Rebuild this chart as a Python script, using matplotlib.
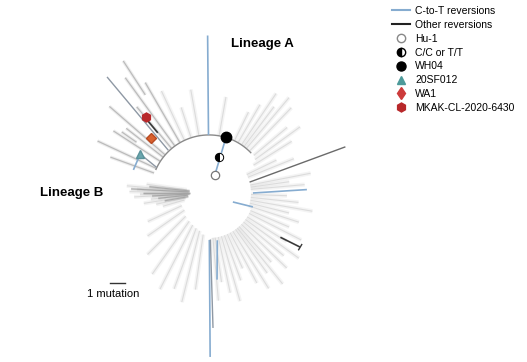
import numpy as np
import matplotlib
matplotlib.use('Agg')
import matplotlib.pyplot as plt
from matplotlib.lines import Line2D

plt.rcParams['font.family'] = ['Liberation Sans', 'DejaVu Sans']

# tree drawn in polar form around the root: angle (deg), radius (mutations)
ARC_R = 3.87
ARC_SPAN = (44, 156)

# faint background branches: (angle, r_start, r_end)
faint_branches = [
    (172, 1.5, 4.2), (175, 1.5, 5.5), (177, 1.4, 4.8), (179, 1.4, 5.3),
    (181, 1.5, 4.6), (183, 1.5, 5.0), (186, 1.5, 3.9), (189, 1.6, 4.4),
    (192, 1.6, 3.6), (196, 1.7, 3.2),
    (205, 2.0, 4.5), (215, 2.0, 5.0), (225, 2.2, 5.8), (235, 2.3, 6.6),
    (243, 2.4, 7.2), (250, 2.5, 6.8), (256, 2.6, 7.5), (262, 2.8, 6.5),
    (275, 3.0, 7.2), (278, 3.0, 6.0), (282, 3.0, 6.8), (286, 3.0, 7.5),
    (290, 3.0, 6.2), (294, 3.0, 5.5), (298, 3.0, 6.8),
    (302, 3.0, 7.5), (306, 3.0, 6.6), (309, 3.0, 7.8), (312, 3.0, 6.2),
    (316, 3.0, 7.2), (320, 3.0, 6.5), (324, 3.0, 7.4), (328, 3.0, 6.1),
    (333, 3.0, 6.9), (337, 3.0, 5.8),
    (342, 2.8, 6.3), (346, 2.8, 5.5), (350, 2.8, 7.0), (354, 2.8, 6.0),
    (358, 2.8, 5.2), (5, 2.8, 6.4), (8, 2.8, 5.4), (11, 2.8, 6.9),
    (22, 2.8, 6.1), (26, 2.8, 5.0),
    (32, 3.5, 6.5), (36, 3.8, 7.5), (40, 3.9, 6.8), (46, 3.9, 7.9),
    (50, 3.9, 8.3), (53, 3.9, 7.2), (56, 3.9, 8.0), (60, 3.9, 6.8),
    (64, 3.9, 6.0), (80, 3.9, 6.5), (100, 3.9, 7.0), (108, 3.9, 6.0),
    (115, 3.9, 7.5),
]

# lineage B fan near the root, a bit darker
lineage_b_fan = [
    (174, 1.3, 4.0), (177, 1.3, 5.2), (180, 1.3, 4.4), (183, 1.3, 3.8),
    (186, 1.4, 3.4), (190, 1.4, 3.0),
]

# more visible grey branches in the upper-left (lineage A side)
grey_branches = [
    (120, 3.9, 8.5), (123, 7.8, 10.5), (126, 3.9, 9.5), (130, 3.9, 7.5),
    (139, 3.9, 8.8), (142, 3.9, 7.0), (145, 5.9, 7.1), (147, 3.9, 7.6),
    (155, 3.9, 8.2), (160, 3.9, 7.0),
]

# highlighted segments: (a0, r0, a1, r1, kind)
segments = [
    (90.5, 3.87, 90.5, 10.5, 'ct'),
    (133.6, 3.93, 131.3, 10.3, 'tree'),
    (130.4, 5.27, 130.3, 6.4, 'other'),
    (154.0, 3.87, 150.5, 5.27, 'tree'),
    (150.5, 5.27, 163.0, 5.27, 'ct'),
    (73.0, 3.87, 72.0, 1.27, 'ct'),
    (15.0, 2.8, 18.7, 9.6, 'dark'),
    (0.0, 2.93, 2.0, 6.53, 'ct'),
    (-20.6, 1.7, -17.6, 3.07, 'ct'),
    (-31.8, 5.6, -30.7, 7.07, 'other'),
    (-89.6, 3.13, -89.6, 10.93, 'ct'),
    (-88.3, 3.1, -88.3, 9.0, 'tree'),
    (-80.0, 3.2, -84.7, 5.8, 'ct'),
]

# sample markers: (angle, r)
hu1 = (72.0, 1.27)
cc_tt = (74.0, 2.47)
wh04 = (73.0, 3.87)
sf012 = (150.5, 5.27)
wa1 = (136.5, 5.33)
mkak = (129.7, 6.6)

BLUE = '#86acd0'
kind_style = {
    'ct': dict(color=BLUE, lw=1.2),
    'other': dict(color='#3a3a3a', lw=1.2),
    'tree': dict(color='#8e98a4', lw=1.0),
    'dark': dict(color='#6a6a6a', lw=1.0),
}


def pol(a, r):
    t = np.deg2rad(a)
    return r * np.cos(t), r * np.sin(t)


def radial(ax, a, r0, r1, **kw):
    x0, y0 = pol(a, r0)
    x1, y1 = pol(a, r1)
    ax.plot([x0, x1], [y0, y1], solid_capstyle='butt', **kw)


fig = plt.figure(figsize=(5.27, 3.62), dpi=100)
ax = fig.add_axes([0, 0, 1, 1])
px = 15.0  # pixels per mutation
ax.set_xlim(-209 / px, (527 - 209) / px)
ax.set_ylim(-(362 - 193) / px, 193 / px)
ax.axis('off')

# soft haze behind the faint branches, then the branches themselves
for a, r0, r1 in faint_branches:
    radial(ax, a, r0, r1, color='#d4d4d4', lw=3.0, alpha=0.25, zorder=1)
    radial(ax, a, r0, r1, color='#c4c4c4', lw=0.8, alpha=0.5, zorder=1)

for a, r0, r1 in lineage_b_fan:
    radial(ax, a, r0, r1, color='#aaaaaa', lw=2.0, alpha=0.35, zorder=1)
    radial(ax, a, r0, r1, color='#9a9a9a', lw=0.8, alpha=0.7, zorder=1)

for a, r0, r1 in grey_branches:
    radial(ax, a, r0, r1, color='#c8c8c8', lw=2.5, alpha=0.3, zorder=1)
    radial(ax, a, r0, r1, color='#a6a6a6', lw=0.9, alpha=0.7, zorder=1)

arc_t = np.linspace(*ARC_SPAN, 120)
ax.plot(*pol(arc_t, ARC_R), color='#8a8a8a', lw=1.0, zorder=2)

for a0, r0, a1, r1, kind in segments:
    x0, y0 = pol(a0, r0)
    x1, y1 = pol(a1, r1)
    ax.plot([x0, x1], [y0, y1], zorder=3, solid_capstyle='butt', **kind_style[kind])

# small end tick on the black reversion
tx, ty = pol(-30.7, 7.07)
dx, dy = pol(-30.7 + 90, 0.2)
ax.plot([tx - dx, tx + dx], [ty - dy, ty + dy], color='#3a3a3a', lw=1.0, zorder=3)

ax.plot(*pol(*hu1), marker='o', ms=6, mfc='white', mec='#777777', mew=0.9, zorder=5)
ax.plot(*pol(*cc_tt), marker='o', ms=6, fillstyle='left', mfc='black',
        mfcalt='white', mec='black', mew=0.7, zorder=5)
ax.plot(*pol(*wh04), marker='o', ms=7.5, color='black', zorder=5)
ax.plot(*pol(*sf012), marker='^', ms=6, color='#6aa6ae', mec='#5a929a', zorder=5)
ax.plot(*pol(*wa1), marker='D', ms=4.8, color='#d9612e', mec='#b84a22', zorder=5)
ax.plot(*pol(*mkak), marker='h', ms=6.5, color='#b8282a', zorder=5)

ax.text((262 - 209) / px, (193 - 44) / px, 'Lineage A', fontsize=9.5,
        fontweight='bold', ha='center', va='center')
ax.text((72 - 209) / px, (193 - 193) / px, 'Lineage B', fontsize=9.5,
        fontweight='bold', ha='center', va='center')

# scale bar
sb_x = (110 - 209) / px
sb_y = (193 - 283) / px
ax.plot([sb_x, sb_x + 1], [sb_y, sb_y], color='#333333', lw=1.0)
ax.text(sb_x + 0.2, sb_y - 0.75, '1 mutation', fontsize=8, ha='center', va='center')

handles = [
    Line2D([], [], color=BLUE, lw=1.5),
    Line2D([], [], color='#222222', lw=1.5),
    Line2D([], [], ls='', marker='o', ms=6, mfc='white', mec='#888888'),
    Line2D([], [], ls='', marker='o', ms=6, fillstyle='left', mfc='black',
           mfcalt='white', mec='black'),
    Line2D([], [], ls='', marker='o', ms=6.5, color='black'),
    Line2D([], [], ls='', marker='^', ms=6, color='#4d9a9a'),
    Line2D([], [], ls='', marker='d', ms=6.5, color='#cc3b3b'),
    Line2D([], [], ls='', marker='h', ms=6.5, color='#b8282a'),
]
labels = ['C-to-T reversions', 'Other reversions', 'Hu-1', 'C/C or T/T', 'WH04',
          '20SF012', 'WA1', 'MKAK-CL-2020-6430']
fig.legend(handles, labels, loc='upper left', bbox_to_anchor=(392 / 527, 1 - 6 / 362),
           frameon=False, fontsize=7.5, handlelength=1.75, handletextpad=0.5,
           labelspacing=0.37, borderpad=0, borderaxespad=0)

fig.savefig('out.png', dpi=100)
